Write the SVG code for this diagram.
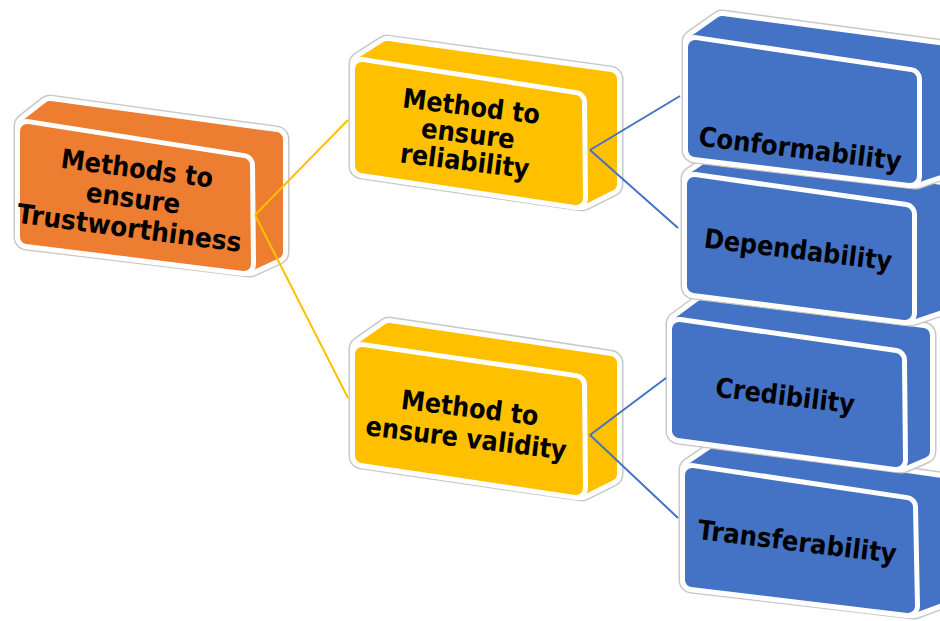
<svg xmlns="http://www.w3.org/2000/svg" width="940" height="621" viewBox="0 0 940 621">
<style>
.sg{fill:none;stroke:#c8c8c8;stroke-width:27;stroke-linejoin:round}
.sw{fill:none;stroke:#ffffff;stroke-width:24;stroke-linejoin:round}
.fw{fill:none;stroke:#ffffff;stroke-width:24;stroke-linejoin:round}
.c{stroke-width:14;stroke-linejoin:round}
.or{fill:#ED7D31;stroke:#ED7D31}
.ye{fill:#FFC000;stroke:#FFC000}
.bl{fill:#4472C4;stroke:#4472C4}
.t{font-family:"DejaVu Sans","Liberation Sans",sans-serif;font-weight:bold;font-size:27px;fill:#000;text-anchor:middle}
.ly{stroke:#FFC000;stroke-width:2;fill:none}
.lb{stroke:#4472C4;stroke-width:2;fill:none}
</style>
<rect width="940" height="621" fill="#ffffff"/>
<g id="n-root">
<polygon class="sg" points="27,126 50,108 276,139 276,252 250,264 27,237"/>
<polygon class="sw" points="27,126 50,108 276,139 276,252 250,264 27,237"/>
<polygon class="c or" points="27,126 50,108 276,139 276,252 250,264 27,237"/>
<polygon class="fw" points="27,131 243,165 244,264 27,237"/>
<polygon class="c or" points="27,131 243,165 244,264 27,237"/>
<g transform="rotate(7.5 132 207.5)">
<text class="t" x="132" y="177.5" textLength="153" lengthAdjust="spacingAndGlyphs">Methods to</text>
<text class="t" x="132" y="207.5" textLength="95" lengthAdjust="spacingAndGlyphs">ensure</text>
<text class="t" x="132" y="237.5" textLength="226" lengthAdjust="spacingAndGlyphs">Trustworthiness</text>
</g>
</g>
<g id="n-reliability">
<polygon class="sg" points="362,64 387,48 610,79 610,184 582,198 362,166"/>
<polygon class="sw" points="362,64 387,48 610,79 610,184 582,198 362,166"/>
<polygon class="c ye" points="362,64 387,48 610,79 610,184 582,198 362,166"/>
<polygon class="fw" points="362,69 575,102 576,198 362,166"/>
<polygon class="c ye" points="362,69 575,102 576,198 362,166"/>
<g transform="rotate(7 467 143)">
<text class="t" x="467" y="115.5" textLength="138" lengthAdjust="spacingAndGlyphs">Method to</text>
<text class="t" x="467" y="143" textLength="94" lengthAdjust="spacingAndGlyphs">ensure</text>
<text class="t" x="467" y="170.5" textLength="130" lengthAdjust="spacingAndGlyphs">reliability</text>
</g>
</g>
<g id="n-validity">
<polygon class="sg" points="362,349 389,330 610,363 610,474 582,488 362,456"/>
<polygon class="sw" points="362,349 389,330 610,363 610,474 582,488 362,456"/>
<polygon class="c ye" points="362,349 389,330 610,363 610,474 582,488 362,456"/>
<polygon class="fw" points="362,354 575,385 576,488 362,456"/>
<polygon class="c ye" points="362,354 575,385 576,488 362,456"/>
<g transform="rotate(7 467 432)">
<text class="t" x="467" y="417" textLength="138" lengthAdjust="spacingAndGlyphs">Method to</text>
<text class="t" x="467" y="447.5" textLength="202" lengthAdjust="spacingAndGlyphs">ensure validity</text>
</g>
</g>
<g id="n-transferability">
<polygon class="sg" points="692,470 717,453 941,485 941,596 914,606 692,580"/>
<polygon class="sw" points="692,470 717,453 941,485 941,596 914,606 692,580"/>
<polygon class="c bl" points="692,470 717,453 941,485 941,596 914,606 692,580"/>
<polygon class="fw" points="692,475 906,507 908,606 692,580"/>
<polygon class="c bl" points="692,475 906,507 908,606 692,580"/>
<text class="t" x="796" y="551" transform="rotate(7 796 551)" textLength="200" lengthAdjust="spacingAndGlyphs">Transferability</text>
</g>
<g id="n-credibility">
<polygon class="sg" points="679,324 702,307 923,335 923,451 902,460 679,431"/>
<polygon class="sw" points="679,324 702,307 923,335 923,451 902,460 679,431"/>
<polygon class="c bl" points="679,324 702,307 923,335 923,451 902,460 679,431"/>
<polygon class="fw" points="679,329 895,360 896,460 679,431"/>
<polygon class="c bl" points="679,329 895,360 896,460 679,431"/>
<text class="t" x="784" y="405" transform="rotate(7 784 405)" textLength="140" lengthAdjust="spacingAndGlyphs">Credibility</text>
</g>
<g id="n-dependability">
<polygon class="sg" points="694,179 719,162 941,192 941,303 911,313 694,286"/>
<polygon class="sw" points="694,179 719,162 941,192 941,303 911,313 694,286"/>
<polygon class="c bl" points="694,179 719,162 941,192 941,303 911,313 694,286"/>
<polygon class="fw" points="694,184 905,214 905,313 694,286"/>
<polygon class="c bl" points="694,184 905,214 905,313 694,286"/>
<text class="t" x="797" y="259" transform="rotate(7 797 259)" textLength="189" lengthAdjust="spacingAndGlyphs">Dependability</text>
</g>
<g id="n-conformability">
<polygon class="sg" points="695,42 722,23 945,53 945,166 916,176 695,150"/>
<polygon class="sw" points="695,42 722,23 945,53 945,166 916,176 695,150"/>
<polygon class="c bl" points="695,42 722,23 945,53 945,166 916,176 695,150"/>
<polygon class="fw" points="695,47 910,79 910,176 695,150"/>
<polygon class="c bl" points="695,47 910,79 910,176 695,150"/>
<text class="t" x="799" y="158" transform="rotate(7 799 158)" textLength="204" lengthAdjust="spacingAndGlyphs">Conformability</text>
</g>
<g id="connectors">
<line class="ly" x1="255" y1="215" x2="348" y2="120"/>
<line class="ly" x1="255" y1="215" x2="348" y2="398"/>
<line class="lb" x1="590" y1="150" x2="680" y2="96"/>
<line class="lb" x1="590" y1="150" x2="678" y2="228"/>
<line class="lb" x1="590" y1="435" x2="666" y2="378"/>
<line class="lb" x1="590" y1="435" x2="678" y2="518"/>
</g>
</svg>
